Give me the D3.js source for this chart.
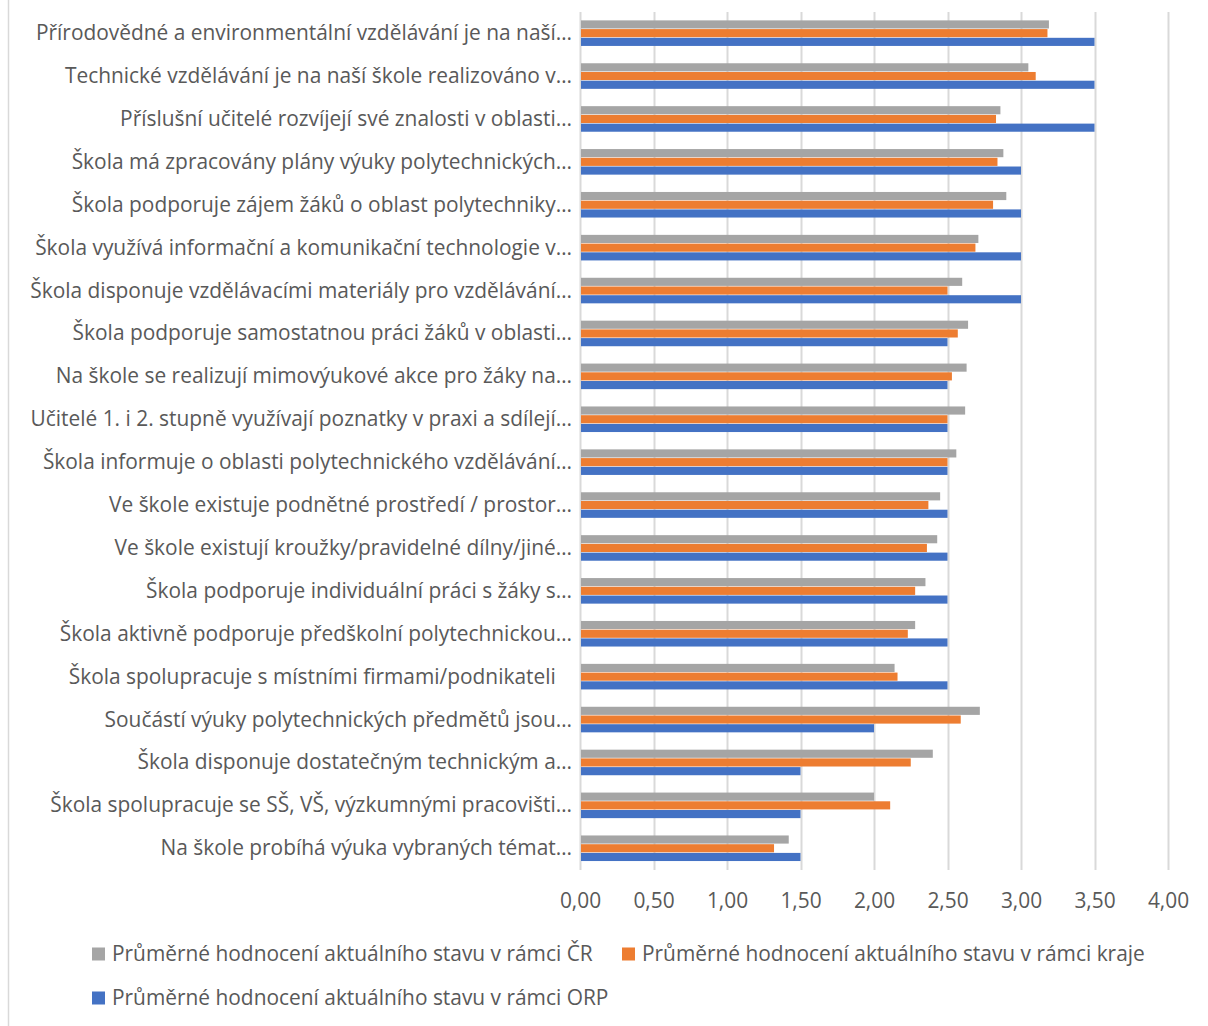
<!DOCTYPE html>
<html><head><meta charset="utf-8">
<script src="https://cdn.jsdelivr.net/npm/d3@7"></script>
<style>
html,body{margin:0;padding:0;background:#fff;}
svg{display:block;font-family:"Open Sans","Noto Sans",sans-serif;}
</style></head>
<body><svg id="chart" width="1208" height="1026"></svg>
<script>
const categories = [
"Přírodovědné a environmentální vzdělávání je na naší…",
"Technické vzdělávání je na naší škole realizováno v…",
"Příslušní učitelé rozvíjejí své znalosti v oblasti…",
"Škola má zpracovány plány výuky polytechnických…",
"Škola podporuje zájem žáků o oblast polytechniky…",
"Škola využívá informační a komunikační technologie v…",
"Škola disponuje vzdělávacími materiály pro vzdělávání…",
"Škola podporuje samostatnou práci žáků v oblasti…",
"Na škole se realizují mimovýukové akce pro žáky na…",
"Učitelé 1. i 2. stupně využívají poznatky v praxi a sdílejí…",
"Škola informuje o oblasti polytechnického vzdělávání…",
"Ve škole existuje podnětné prostředí / prostor…",
"Ve škole existují kroužky/pravidelné dílny/jiné…",
"Škola podporuje individuální práci s žáky s…",
"Škola aktivně podporuje předškolní polytechnickou…",
"Škola spolupracuje s místními firmami/podnikateli\u00a0\u00a0\u00a0",
"Součástí výuky polytechnických předmětů jsou…",
"Škola disponuje dostatečným technickým a…",
"Škola spolupracuje se SŠ, VŠ, výzkumnými pracovišti…",
"Na škole probíhá výuka vybraných témat…"
];
const seriesNames = [
"Průměrné hodnocení aktuálního stavu v rámci ČR",
"Průměrné hodnocení aktuálního stavu v rámci kraje",
"Průměrné hodnocení aktuálního stavu v rámci ORP"
];
const valuesCR   = [3.19,3.05,2.86,2.88,2.90,2.71,2.60,2.64,2.63,2.62,2.56,2.45,2.43,2.35,2.28,2.14,2.72,2.40,2.00,1.42];
const valuesKraj = [3.18,3.10,2.83,2.84,2.81,2.69,2.50,2.57,2.53,2.50,2.50,2.37,2.36,2.28,2.23,2.16,2.59,2.25,2.11,1.32];
const valuesORP  = [3.50,3.50,3.50,3.00,3.00,3.00,3.00,2.50,2.50,2.50,2.50,2.50,2.50,2.50,2.50,2.50,2.00,1.50,1.50,1.50];
const xTicks = [0,0.5,1,1.5,2,2.5,3,3.5,4];
const colors = ["#A5A5A5","#ED7D31","#4472C4"];

const series = [valuesCR, valuesKraj, valuesORP];
const svg = d3.select("#chart");
const textColor = "#595959";
const fontSize = 20.9;
const fontFamily = "Open Sans";

// chart-area left border
svg.append("line").attr("x1",8.5).attr("x2",8.5).attr("y1",0).attr("y2",1026)
  .attr("stroke","#d9d9d9").attr("stroke-width",1.5);

const x = d3.scaleLinear().domain([0,4]).range([580,1168]);
const y = d3.scaleBand().domain(categories).range([12,870]).paddingInner(0.39).paddingOuter(0.195);
const ySub = d3.scaleBand().domain([0,1,2]).range([0,y.bandwidth()]);

const loc = d3.formatLocale({decimal:",",thousands:" ",grouping:[3],currency:["","Kč"]});
const fmt = loc.format(".2f");

// gridlines
svg.append("g").selectAll("line").data(xTicks).join("line")
  .attr("x1",d=>Math.round(x(d))+0.5).attr("x2",d=>Math.round(x(d))+0.5)
  .attr("y1",12).attr("y2",870)
  .attr("stroke","#d9d9d9").attr("stroke-width",2);

// bars
const g = svg.append("g").selectAll("g").data(categories).join("g")
  .attr("transform",d=>`translate(0,${y(d)})`);
g.selectAll("rect").data((d,i)=>series.map((s,k)=>({k,v:s[i]}))).join("rect")
  .attr("x",x(0)+1)
  .attr("y",d=>ySub(d.k))
  .attr("width",d=>x(d.v)-x(0)-1)
  .attr("height",ySub.bandwidth()-0.6)
  .attr("fill",d=>colors[d.k]);

// y axis labels
const yAxis = d3.axisLeft(y).tickSize(0).tickPadding(8);
const ya = svg.append("g").attr("transform","translate(572,0)").call(yAxis);
ya.select(".domain").remove();
ya.selectAll("text").attr("fill",textColor).style("font-size",fontSize+"px")
  .style("font-family",fontFamily).attr("x",0).style("white-space","pre");

// x axis labels
const xAxis = d3.axisBottom(x).tickValues(xTicks).tickFormat(fmt).tickSize(0).tickPadding(0);
const xa = svg.append("g").attr("transform","translate(0,893)").call(xAxis);
xa.select(".domain").remove();
xa.selectAll("text").attr("fill",textColor).style("font-size",fontSize+"px").style("font-family",fontFamily);

// legend
const legendPos = [[92,954],[622,954],[92,998]];
const lg = svg.append("g").selectAll("g").data(seriesNames).join("g")
  .attr("transform",(d,i)=>`translate(${legendPos[i][0]},${legendPos[i][1]})`);
lg.append("rect").attr("x",0).attr("y",-6.5).attr("width",13).attr("height",13)
  .attr("fill",(d,i)=>colors[i]);
lg.append("text").attr("x",20).attr("y",0).attr("dy","0.35em")
  .attr("fill",textColor).style("font-size",fontSize+"px").style("font-family",fontFamily).text(d=>d);
</script>
</body></html>
